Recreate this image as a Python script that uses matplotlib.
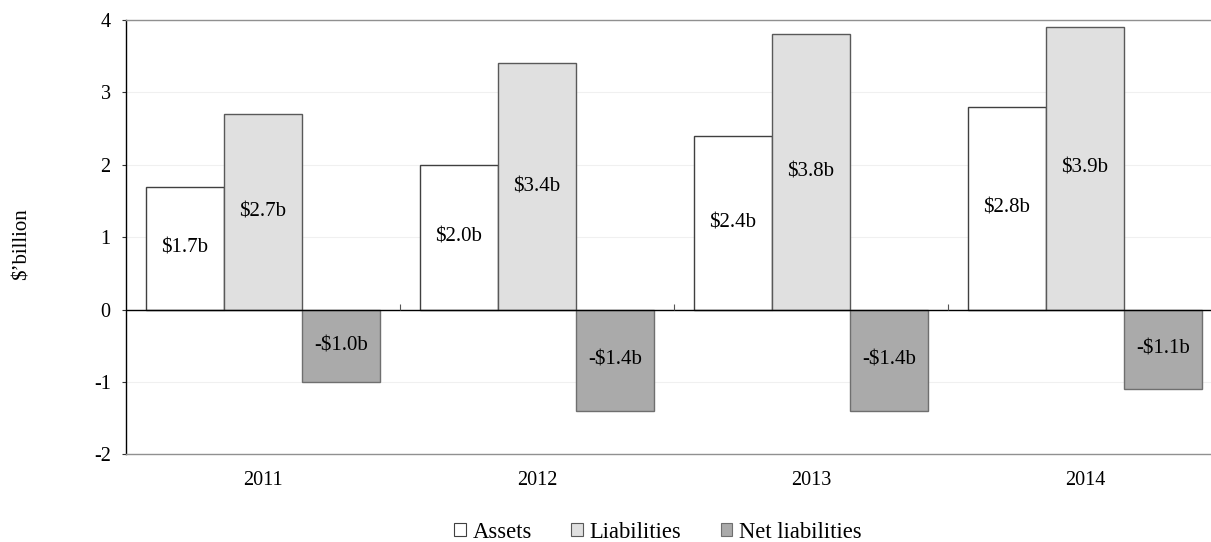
import matplotlib.pyplot as plt
import matplotlib.patches as mpatches
import numpy as np

# valores em $ bilhoes
anos = ['2011', '2012', '2013', '2014']
ativos = [1.7, 2.0, 2.4, 2.8]
passivos = [2.7, 3.4, 3.8, 3.9]
passivo_liq = [-1.0, -1.4, -1.4, -1.1]
series = ['Assets', 'Liabilities', 'Net liabilities']

cores = ['#ffffff', '#e0e0e0', '#aaaaaa']
bordas = ['#404040', '#595959', '#6f6f6f']

plt.rcParams['font.family'] = ['Liberation Serif', 'DejaVu Serif']
plt.rcParams['font.size'] = 14.5
plt.rcParams['axes.unicode_minus'] = False

fig = plt.figure(figsize=(12.11, 5.42), dpi=100)
ax = fig.add_axes([126 / 1211, 87.6 / 542, 1096 / 1211, 434.4 / 542])

x = np.arange(len(anos))
larg = 1 / 3.5
for k, vals in enumerate([ativos, passivos, passivo_liq]):
    pos = x + (k - 1) * larg
    ax.bar(pos, vals, width=larg, color=cores[k], edgecolor=bordas[k],
           linewidth=1.0, zorder=3)
    for p, v in zip(pos, vals):
        txt = ('-$%.1fb' % abs(v)) if v < 0 else ('$%.1fb' % v)
        ax.text(p, v / 2, txt, ha='center', va='center', fontsize=15, zorder=4)

ax.set_xlim(-0.5, len(anos) - 0.5)
ax.set_ylim(-2, 4)
ax.set_yticks(range(-2, 5))
ax.set_xticks(x)
ax.set_xticklabels(anos)
ax.tick_params(axis='x', length=0, pad=12, labelsize=14.5)
ax.tick_params(axis='y', length=3, width=0.8, pad=8, color='#333333',
               labelsize=14.5)

# grade bem clara
ax.grid(axis='y', color='#f0f0f0', linewidth=0.8, zorder=0)
ax.set_axisbelow(True)

# eixo horizontal no zero com marcas entre categorias
ax.axhline(0, color='#000000', linewidth=1.0, zorder=5)
limites = np.arange(1, len(anos))
ax.vlines(limites - 0.5, 0, 0.08, color='#555555', linewidth=0.8, zorder=5)

ax.spines['right'].set_visible(False)
ax.spines['top'].set_color('#909090')
ax.spines['bottom'].set_color('#909090')
ax.spines['left'].set_color('#000000')
for s in ['top', 'bottom', 'left']:
    ax.spines[s].set_linewidth(1.0)

fig.text(22 / 1211, 1 - 244 / 542, '$\u2019billion', rotation=90,
         ha='center', va='center', fontsize=15)

handles = [mpatches.Patch(facecolor=cores[k], edgecolor=bordas[k], linewidth=0.8,
                          label=series[k]) for k in range(3)]
fig.legend(handles=handles, loc='center', ncol=3, frameon=False,
           bbox_to_anchor=(658 / 1211, 1 - 532 / 542), fontsize=16.3,
           handlelength=0.5, handleheight=0.5, handletextpad=0.3,
           columnspacing=1.75, borderpad=0.1)

fig.savefig('out.png', dpi=100)
